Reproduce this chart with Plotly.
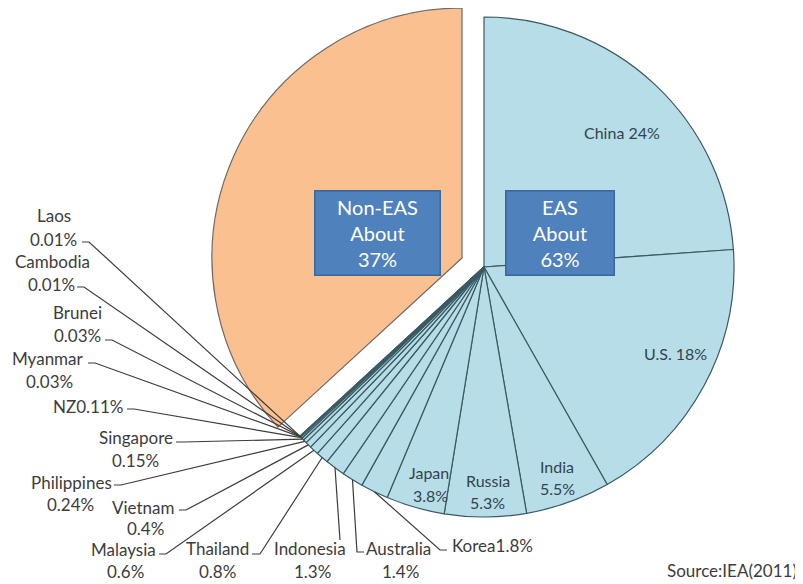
import math
import plotly.graph_objects as go

# ---------------- data ----------------
countries = ["China", "U.S.", "India", "Russia", "Japan", "Korea", "Australia",
             "Indonesia", "Thailand", "Malaysia", "Vietnam", "Philippines",
             "Singapore", "NZ", "Myanmar", "Brunei", "Cambodia", "Laos"]
shares = [24, 18, 5.5, 5.3, 3.8, 1.8, 1.4, 1.3, 0.8, 0.6, 0.4, 0.24,
          0.15, 0.11, 0.03, 0.03, 0.01, 0.01]
group_names = ["Non-EAS", "EAS"]
group_shares = [37, 63]
non_eas_share = 37
source_text = "Source:IEA(2011)"

# ---------------- layout / style ----------------
# the page body has an 8px margin, so the figure is drawn 8px in from the
# window's top-left corner; window coordinates below are converted for that
OFF = 8
W, H = 803 - OFF, 584 - OFF
BLUE = "#b7dde8"
ORANGE = "#fac090"
BOX = "#4f81bd"
TXT = "#3c3c3c"
TXT_IN = "#33434d"
FONT = "Lato"

# pie geometry (window pixels)
CX, CY, R = 484, 267, 250          # EAS pie
OX, OY = 462, 258                  # pulled-out Non-EAS slice centre


def px(x):
    return (x - OFF) / W


def py(y):
    return 1 - (y - OFF) / H


labels_all = countries + ["Non-EAS"]
values_all = shares + [non_eas_share]

fig = go.Figure()

# EAS part
colors_a = [BLUE] * len(countries) + ["rgba(0,0,0,0)"]
lw_a = [1.2] * len(countries) + [0]
fig.add_trace(go.Pie(
    labels=labels_all, values=values_all, sort=False, direction="clockwise",
    rotation=0, textinfo="none", hoverinfo="label+value", showlegend=False,
    marker=dict(colors=colors_a, line=dict(color="#3a5962", width=lw_a)),
    domain=dict(x=[px(CX - R), px(CX + R)], y=[py(CY + R), py(CY - R)]),
))

# Non-EAS part (pulled out)
colors_b = ["rgba(0,0,0,0)"] * len(countries) + [ORANGE]
lw_b = [0] * len(countries) + [1.2]
fig.add_trace(go.Pie(
    labels=labels_all, values=values_all, sort=False, direction="clockwise",
    rotation=0, textinfo="none", hoverinfo="label+value", showlegend=False,
    marker=dict(colors=colors_b, line=dict(color="#6f6a66", width=lw_b)),
    domain=dict(x=[px(OX - R), px(OX + R)], y=[py(OY + R), min(1, py(OY - R))]),
))

# slice mid angles -> tip on the pie rim
total = sum(values_all)
tips = {}
cum = 0
for name, v in zip(labels_all, values_all):
    mid = (cum + v / 2) / total * 2 * math.pi
    tips[name] = (CX + R * math.sin(mid), CY - R * math.cos(mid))
    cum += v


def fmt(v):
    return f"{v:g}%"


# label placement (window-pixel centres of text lines), leader start points
label_layout = {
    "China":       dict(lines=[(622, 132)], one=True, inside=True),
    "U.S.":        dict(lines=[(675, 353)], one=True, inside=True),
    "India":       dict(lines=[(557, 466), (557, 488)], inside=True),
    "Russia":      dict(lines=[(488, 480), (487, 502)], inside=True),
    "Japan":       dict(lines=[(429, 472), (430, 495)], inside=True),
    "Korea":       dict(lines=[(492, 545)], one=True, nospace=True,
                        lead=[(447, 550), (440, 550)]),
    "Australia":   dict(lines=[(398, 548), (400, 571)],
                        lead=[(364, 552), (357, 552)]),
    "Indonesia":   dict(lines=[(310, 548), (312, 571)],
                        lead=[(340, 540)]),
    "Thailand":    dict(lines=[(217, 548), (217, 571)],
                        lead=[(252, 554), (260, 554)]),
    "Malaysia":    dict(lines=[(123, 549), (125, 571)],
                        lead=[(159, 554), (166, 554)]),
    "Vietnam":     dict(lines=[(143, 507), (145, 528)],
                        lead=[(179, 510), (186, 510)]),
    "Philippines": dict(lines=[(71, 482), (70, 504)],
                        lead=[(114, 485), (121, 485)]),
    "Singapore":   dict(lines=[(136, 437), (135, 460)],
                        lead=[(176, 442), (183, 442)]),
    "NZ":          dict(lines=[(88, 406)], one=True, nospace=True,
                        lead=[(127, 409), (134, 409)]),
    "Myanmar":     dict(lines=[(48, 358), (49, 381)],
                        lead=[(88, 363), (95, 363)]),
    "Brunei":      dict(lines=[(77, 312), (77, 335)],
                        lead=[(105, 340), (112, 340)]),
    "Cambodia":    dict(lines=[(52, 261), (51, 284)],
                        lead=[(77, 287), (84, 287)]),
    "Laos":        dict(lines=[(54, 215), (53, 239)],
                        lead=[(82, 242), (89, 242)]),
}

annotations = []
shapes = []
for name, v in zip(countries, shares):
    L = label_layout[name]
    color = TXT_IN if L.get("inside") else TXT
    if L.get("one"):
        sep = "" if L.get("nospace") else " "
        texts = [name + sep + fmt(v)]
    else:
        texts = [name, fmt(v)]
    for t, (x, y) in zip(texts, L["lines"]):
        annotations.append(dict(
            x=px(x), y=py(y), xref="paper", yref="paper", text=t,
            showarrow=False, xanchor="center", yanchor="middle",
            font=dict(family=FONT, size=17 if not L.get("inside") else 16,
                      color=color)))
    if "lead" in L:
        pts = L["lead"] + [tips[name]]
        path = "M " + " L ".join(f"{px(a):.5f},{py(b):.5f}" for a, b in pts)
        shapes.append(dict(type="path", xref="paper", yref="paper", path=path,
                           line=dict(color="#3c3c3c", width=1.2)))

# group boxes
box_layout = {"Non-EAS": (377, 233, 122), "EAS": (560, 233, 105)}
for g, s in zip(group_names, group_shares):
    x, y, w = box_layout[g]
    annotations.append(dict(
        x=px(x), y=py(y), xref="paper", yref="paper",
        text=f"{g}<br>About<br>{s}%", showarrow=False,
        xanchor="center", yanchor="middle", align="center",
        width=w, height=81, bgcolor=BOX, bordercolor="#3a679c",
        borderwidth=1.5, borderpad=1,
        font=dict(family=FONT, size=20, color="white")))

annotations.append(dict(
    x=px(799), y=py(570), xref="paper", yref="paper", text=source_text,
    showarrow=False, xanchor="right", yanchor="middle",
    font=dict(family=FONT, size=17, color=TXT)))

fig.update_layout(
    width=W, height=H, margin=dict(l=0, r=0, t=0, b=0),
    paper_bgcolor="white", plot_bgcolor="white",
    annotations=annotations, shapes=shapes,
)

fig.write_html("out.html")
